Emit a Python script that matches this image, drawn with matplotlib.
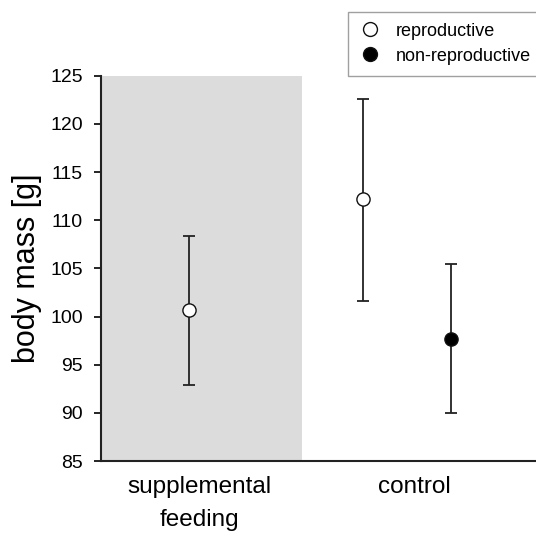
import numpy as np
import matplotlib.pyplot as plt

plt.rcParams['font.family'] = ['Liberation Sans', 'DejaVu Sans']

# group means and error bar ends (body mass, g)
groups = ['supplemental\nfeeding', 'control']
series = ['reproductive', 'reproductive', 'non-reproductive']
means = [100.7, 112.2, 97.7]
upper = [108.4, 122.6, 105.5]
lower = [92.9, 101.6, 90.0]
yticks = [85, 90, 95, 100, 105, 110, 115, 120, 125]

# layout in axis units: shaded treatment block spans 0..1
xpos = [0.438, 1.303, 1.739]
group_pos = [0.49, 1.56]
faces = ['white', 'white', 'black']

fig = plt.figure(figsize=(5.36, 5.38), dpi=100)
ax = fig.add_axes([0.1884, 0.1431, 0.8116, 0.716])

ax.axvspan(0, 1, color='#dcdcdc', lw=0, zorder=0)

means = np.array(means)
yerr = [means - np.array(lower), np.array(upper) - means]
for i in range(len(means)):
    ax.errorbar(xpos[i], means[i], yerr=[[yerr[0][i]], [yerr[1][i]]], fmt='none',
                ecolor='#222222', elinewidth=1.3, capsize=4, capthick=1.3, zorder=2)
    ax.plot(xpos[i], means[i], 'o', ms=9.5, mfc=faces[i], mec='#111111', mew=1.0, zorder=3)

ax.set_xlim(0, 2.164)
ax.set_ylim(85, 125)
ax.set_yticks(yticks)
ax.set_xticks(group_pos)
ax.set_xticklabels(groups, fontsize=17.5, linespacing=1.65)
ax.tick_params(axis='x', length=0, pad=11)
ax.tick_params(axis='y', labelsize=14, length=5, width=1.2, direction='out', pad=8)
ax.set_ylabel('body mass [g]', fontsize=22, labelpad=6)

for s in ['top', 'right']:
    ax.spines[s].set_visible(False)
for s in ['left', 'bottom']:
    ax.spines[s].set_linewidth(1.5)
    ax.spines[s].set_color('#222222')

h1, = ax.plot([], [], 'o', ms=10, mfc='white', mec='#111111', mew=1.0)
h2, = ax.plot([], [], 'o', ms=10, mfc='black', mec='#111111', mew=1.0)
leg = fig.legend([h1, h2], ['reproductive', 'non-reproductive'],
                 loc='upper right', bbox_to_anchor=(1.01, 0.978), fontsize=13,
                 frameon=True, fancybox=False, handletextpad=0.8, borderpad=0.6,
                 labelspacing=0.45, handlelength=1.2, borderaxespad=0)
leg.get_frame().set_edgecolor('#888888')
leg.get_frame().set_linewidth(1.0)

plt.savefig('out.png', dpi=100)
